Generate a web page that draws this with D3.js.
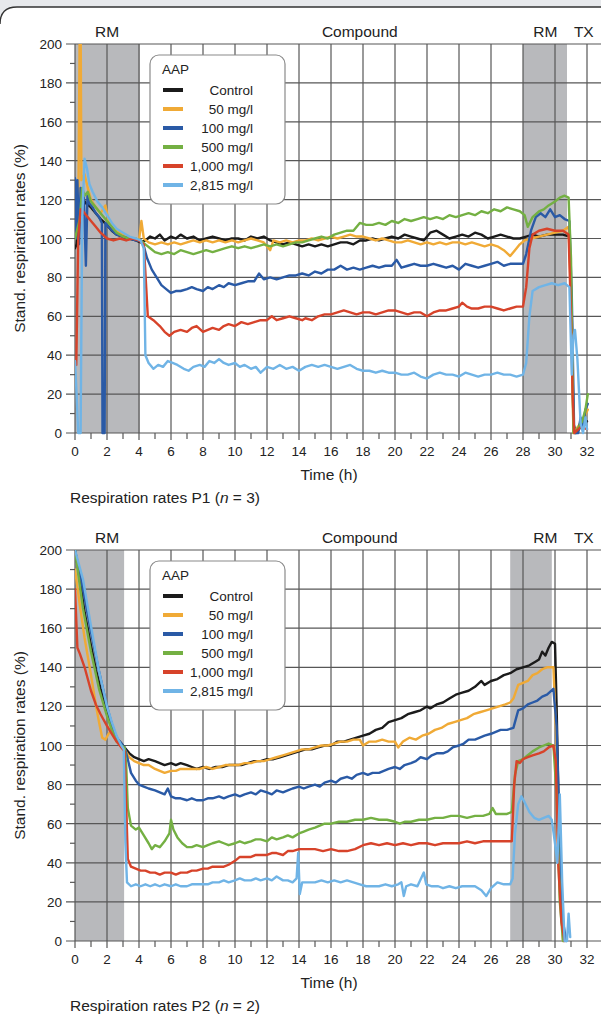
<!DOCTYPE html>
<html>
<head>
<meta charset="utf-8">
<script src="https://cdn.jsdelivr.net/npm/d3@7"></script>
<style>
  body { margin: 0; background: #fff; }
  svg { display: block; font-family: "Liberation Sans", Arial, sans-serif; }
</style>
</head>
<body>
<div id="my_dataviz"></div>
<script>

// ---- data ----
const seriesLabels = ["Control", "50 mg/l", "100 mg/l", "500 mg/l", "1,000 mg/l", "2,815 mg/l"];
const phaseLabels = ["RM", "Compound", "RM", "TX"];
const phaseLabelTimes = [2, 17.8, 29.4, 31.8];
const timeTicks = [0, 2, 4, 6, 8, 10, 12, 14, 16, 18, 20, 22, 24, 26, 28, 30, 32];
const rateTicks = [0, 20, 40, 60, 80, 100, 120, 140, 160, 180, 200];
const captions = ["Respiration rates P1", "Respiration rates P2"];
const replicates = [3, 2];

// shaded RM phases (h)
const p1Shade = [[0, 4.05], [28, 30.75]];
const p2Shade = [[0, 3.07], [27.2, 29.8]];

// P1 : [time (h), stand. respiration rate (%)]
const p1Control = [[0,95],[0.1,97],[0.3,112],[0.5,120],[0.7,118],[1,116],[1.3,113],[1.6,110],[2,107],[2.3,104],[2.6,102],[3,101],[3.4,100],[3.8,99],[4.1,98],[4.4,99],[4.7,101],[5,100],[5.3,102],[5.6,99],[6,101],[6.3,100],[6.6,102],[7,100],[7.4,101],[7.8,99],[8.2,100],[8.6,101],[9,100],[9.4,99],[9.8,100],[10.2,100],[10.6,99],[11,101],[11.4,100],[11.8,101],[12.2,99],[12.6,98],[13,97],[13.4,98],[13.8,97],[14.2,96],[14.6,97],[15,96],[15.4,97],[15.8,96],[16.2,97],[16.6,98],[17,98],[17.4,97],[17.8,99],[18.2,99],[18.6,100],[19,99],[19.4,100],[19.8,101],[20.2,100],[20.6,102],[21,101],[21.4,100],[21.8,99],[22.2,103],[22.6,104],[23,102],[23.4,100],[23.8,101],[24.2,102],[24.6,101],[25,103],[25.4,102],[25.8,100],[26.2,101],[26.6,102],[27,101],[27.4,100],[27.8,100],[28.2,101],[28.6,102],[29,101],[29.5,102],[30,102],[30.5,102],[30.9,101],[31.05,60],[31.15,5],[31.3,0],[31.6,3],[32,6]];
const p1Mg50 = [[0,100],[0.2,105],[0.3,215],[0.35,215],[0.4,130],[0.6,133],[0.8,126],[1,120],[1.3,116],[1.6,113],[1.9,117],[2.1,109],[2.4,106],[2.8,103],[3.2,101],[3.6,100],[4,99],[4.15,109],[4.3,100],[4.6,98],[5,97],[5.4,98],[5.8,97],[6.2,98],[6.6,97],[7,98],[7.4,99],[7.8,98],[8.2,99],[8.6,98],[9,99],[9.4,98],[9.8,99],[10.2,98],[10.6,99],[11,100],[11.4,99],[11.8,98],[12.2,94],[12.4,99],[12.8,98],[13.2,99],[13.6,98],[14,99],[14.4,99],[14.8,100],[15.2,99],[15.6,100],[16,101],[16.4,100],[16.8,101],[17.2,102],[17.6,101],[18,101],[18.4,100],[18.8,99],[19.2,100],[19.6,99],[20,98],[20.4,98],[20.8,99],[21.2,98],[21.6,97],[22,98],[22.4,97],[22.8,98],[23.2,97],[23.6,98],[24,98],[24.4,97],[24.8,98],[25.2,97],[25.6,96],[26,97],[26.4,96],[26.8,94],[27.2,91],[27.5,94],[27.8,97],[28.1,99],[28.5,100],[29,101],[29.5,102],[30,103],[30.5,104],[30.85,106],[31,70],[31.15,0],[31.5,4],[31.8,8],[32.05,12]];
const p1Mg100 = [[0,131],[0.08,100],[0.15,130],[0.25,97],[0.35,126],[0.45,112],[0.55,122],[0.68,86],[0.78,122],[0.9,118],[1.1,116],[1.3,113],[1.5,111],[1.68,108],[1.72,0],[1.85,0],[1.9,108],[2.2,105],[2.6,102],[3,101],[3.4,100],[3.8,99],[4.1,99],[4.3,96],[4.5,90],[4.8,84],[5.1,80],[5.4,76],[5.7,74],[6,72],[6.3,73],[6.6,73],[7,74],[7.3,75],[7.6,74],[8,73],[8.3,75],[8.6,74],[9,76],[9.3,75],[9.6,77],[10,76],[10.4,77],[10.8,78],[11.2,78],[11.5,82],[11.8,79],[12.2,80],[12.6,79],[13,80],[13.4,81],[13.8,81],[14.2,82],[14.6,81],[15,83],[15.4,82],[15.8,84],[16.2,84],[16.6,86],[17,84],[17.4,85],[17.8,84],[18.2,85],[18.6,86],[19,85],[19.4,86],[19.8,86],[20.1,89],[20.4,85],[20.8,86],[21.2,87],[21.6,86],[22,86],[22.4,87],[22.8,86],[23.2,85],[23.6,86],[24,84],[24.4,87],[24.8,86],[25.2,85],[25.6,86],[26,87],[26.4,88],[26.8,86],[27.2,87],[27.6,87],[28,87],[28.2,92],[28.5,104],[28.8,111],[29.1,113],[29.4,111],[29.7,115],[30,111],[30.3,112],[30.6,110],[30.9,109],[31.05,70],[31.2,0],[31.45,0],[31.6,8],[31.75,3],[31.9,12],[32.05,15]];
const p1Mg500 = [[0,100],[0.3,110],[0.45,126],[0.6,122],[0.8,124],[1,119],[1.3,116],[1.6,113],[2,109],[2.3,106],[2.6,103],[3,101],[3.4,100],[3.8,100],[4.1,99],[4.4,97],[4.7,95],[5,93],[5.4,92],[5.8,93],[6.2,92],[6.6,94],[7,93],[7.4,92],[7.8,93],[8.2,94],[8.6,93],[9,94],[9.4,95],[9.8,96],[10.2,95],[10.6,96],[11,95],[11.4,96],[11.8,97],[12.2,96],[12.6,97],[13,96],[13.4,97],[13.8,98],[14.2,98],[14.6,99],[15,100],[15.4,101],[15.8,100],[16.2,102],[16.6,103],[17,104],[17.4,104],[17.8,108],[18.2,107],[18.6,107],[19,108],[19.4,107],[19.8,109],[20.2,108],[20.6,110],[21,109],[21.4,110],[21.8,111],[22.2,110],[22.6,111],[23,110],[23.4,112],[23.8,111],[24.2,112],[24.6,113],[25,112],[25.4,114],[25.8,113],[26.2,115],[26.6,114],[27,116],[27.4,115],[27.8,114],[28.1,112],[28.3,106],[28.6,111],[29,114],[29.3,115],[29.6,117],[30,119],[30.3,121],[30.6,122],[30.85,121],[31,90],[31.15,0],[31.4,2],[31.7,6],[31.9,12],[32.05,20]];
const p1Mg1000 = [[0,37],[0.08,35],[0.2,100],[0.35,115],[0.5,114],[0.7,112],[1,109],[1.3,106],[1.6,103],[2,100],[2.4,99],[2.8,100],[3.2,99],[3.6,100],[4,99],[4.3,97],[4.45,75],[4.55,60],[4.9,58],[5.3,55],[5.6,52],[5.9,50],[6.2,52],[6.6,53],[7,52],[7.3,54],[7.6,55],[8,52],[8.3,53],[8.6,54],[9,53],[9.3,55],[9.6,56],[10,55],[10.4,57],[10.8,56],[11.2,57],[11.6,58],[12,58],[12.3,60],[12.6,58],[13,59],[13.4,60],[13.8,59],[14.2,58],[14.4,59],[14.8,58],[15.2,60],[15.6,61],[16,61],[16.4,62],[16.8,63],[17.2,62],[17.6,61],[18,62],[18.4,62],[18.8,61],[19.2,62],[19.6,63],[20,63],[20.4,62],[20.8,61],[21.2,62],[21.6,62],[22,60],[22.4,62],[22.8,63],[23.2,63],[23.6,64],[24,65],[24.2,67],[24.5,65],[24.8,64],[25.2,64],[25.6,65],[26,65],[26.4,64],[26.8,63],[27.2,64],[27.6,65],[28,65],[28.2,75],[28.4,95],[28.6,102],[29,104],[29.5,105],[30,104],[30.5,104],[30.85,102],[31,60],[31.1,20],[31.2,0],[31.6,3],[32,2]];
const p1Mg2815 = [[0,37],[0.1,20],[0.2,0],[0.35,0],[0.45,110],[0.6,141],[0.75,136],[0.9,128],[1.1,124],[1.4,119],[1.7,116],[2,112],[2.3,108],[2.6,105],[3,103],[3.4,101],[3.8,100],[4.1,99],[4.3,95],[4.4,40],[4.6,36],[4.9,33],[5.2,35],[5.5,34],[5.8,37],[6.1,36],[6.4,35],[6.8,33],[7.1,32],[7.4,34],[7.8,35],[8.1,34],[8.4,37],[8.7,36],[9,38],[9.3,36],[9.6,35],[10,36],[10.3,34],[10.6,35],[11,33],[11.3,34],[11.6,31],[12,34],[12.4,33],[12.8,35],[13.2,33],[13.6,34],[14,32],[14.4,34],[14.8,35],[15.2,34],[15.6,35],[16,34],[16.4,33],[16.8,34],[17.2,35],[17.6,33],[18,32],[18.4,32],[18.8,31],[19.2,32],[19.6,31],[20,31],[20.4,30],[20.8,30],[21.2,31],[21.6,29],[22,28],[22.4,30],[22.8,31],[23.2,30],[23.6,30],[24,29],[24.4,31],[24.8,30],[25.2,29],[25.6,30],[26,30],[26.4,31],[26.8,30],[27.2,30],[27.6,29],[28,30],[28.2,36],[28.4,60],[28.6,73],[29,75],[29.4,76],[29.8,77],[30.2,76],[30.6,77],[30.9,75],[31.05,30],[31.15,50],[31.25,53],[31.4,38],[31.6,5],[31.75,0],[31.9,8],[32,2]];

// P2
const p2Control = [[0,200],[0.3,185],[0.6,168],[1,151],[1.3,139],[1.6,129],[2,118],[2.3,110],[2.6,104],[2.9,101],[3.1,99],[3.4,96],[3.7,94],[4,93],[4.3,92],[4.6,93],[5,92],[5.3,91],[5.6,90],[6,91],[6.3,90],[6.6,91],[7,90],[7.3,89],[7.6,88],[8,89],[8.4,88],[8.8,89],[9.2,89],[9.6,90],[10,90],[10.4,90],[10.8,91],[11.2,92],[11.6,92],[12,93],[12.4,93],[12.8,94],[13.2,95],[13.6,96],[14,97],[14.4,98],[14.8,98],[15.2,99],[15.6,100],[16,100],[16.4,102],[16.8,102],[17.2,103],[17.6,104],[18,105],[18.4,106],[18.8,108],[19.2,109],[19.6,112],[20,113],[20.4,114],[20.8,116],[21.2,117],[21.6,118],[22,120],[22.2,119],[22.6,121],[23,122],[23.4,124],[23.8,126],[24.2,127],[24.6,128],[25,130],[25.4,133],[25.6,131],[26,133],[26.4,134],[26.8,136],[27.2,137],[27.6,139],[28,140],[28.4,141],[28.8,143],[29,144],[29.2,148],[29.4,146],[29.6,150],[29.8,153],[30,152],[30.1,120],[30.25,60],[30.4,15],[30.55,0]];
const p2Mg50 = [[0,190],[0.3,172],[0.6,155],[1,136],[1.3,121],[1.5,112],[1.7,104],[1.9,103],[2.1,106],[2.3,108],[2.6,103],[2.9,100],[3.1,98],[3.4,94],[3.7,92],[4,91],[4.3,90],[4.6,90],[5,88],[5.3,87],[5.6,86],[6,87],[6.3,87],[6.6,88],[7,88],[7.4,88],[7.8,88],[8.2,89],[8.6,88],[9,89],[9.4,90],[9.8,90],[10.2,90],[10.6,91],[11,91],[11.4,92],[11.8,92],[12.2,93],[12.6,94],[13,95],[13.4,96],[13.8,97],[14.2,98],[14.6,98],[15,99],[15.4,100],[15.8,100],[16.2,101],[16.6,102],[17,102],[17.4,103],[17.8,103],[18,100],[18.4,102],[18.8,102],[19.2,103],[19.6,102],[20,102],[20.2,99],[20.5,102],[20.9,104],[21.3,103],[21.7,105],[22.1,106],[22.5,108],[22.9,109],[23.3,111],[23.7,112],[24.1,113],[24.5,114],[24.9,116],[25.3,117],[25.7,118],[26.1,119],[26.5,120],[26.9,121],[27.2,122],[27.4,124],[27.7,131],[28,132],[28.3,133],[28.6,136],[28.9,137],[29.2,139],[29.5,140],[29.9,140],[30.1,100],[30.3,30],[30.5,0]];
const p2Mg100 = [[0,200],[0.5,180],[1,158],[1.5,138],[2,120],[2.3,111],[2.6,104],[2.9,101],[3.1,99],[3.3,93],[3.5,86],[3.8,82],[4,80],[4.3,79],[4.6,78],[5,77],[5.3,76],[5.6,75],[5.8,78],[6,74],[6.3,73],[6.6,73],[7,72],[7.3,73],[7.6,72],[8,72],[8.3,73],[8.6,73],[9,74],[9.3,73],[9.6,74],[10,75],[10.3,74],[10.6,75],[11,76],[11.3,75],[11.6,77],[12,76],[12.3,75],[12.6,77],[13,76],[13.3,77],[13.6,78],[14,79],[14.3,78],[14.6,79],[15,80],[15.3,79],[15.6,81],[16,82],[16.3,81],[16.6,83],[17,84],[17.3,83],[17.6,85],[18,86],[18.3,85],[18.6,86],[19,86],[19.3,87],[19.6,88],[20,89],[20.3,88],[20.6,90],[21,91],[21.3,92],[21.6,94],[22,93],[22.3,95],[22.6,96],[23,96],[23.3,97],[23.6,99],[24,100],[24.3,101],[24.6,103],[25,103],[25.3,104],[25.6,105],[26,106],[26.3,107],[26.6,108],[27,108],[27.4,109],[27.7,118],[28,119],[28.3,121],[28.6,122],[28.9,123],[29.2,125],[29.5,126],[29.9,129],[30.1,110],[30.3,50],[30.5,10],[30.7,0]];
const p2Mg500 = [[0,200],[0.5,170],[1,148],[1.5,129],[2,115],[2.3,108],[2.6,102],[2.9,100],[3.1,99],[3.2,90],[3.3,68],[3.5,59],[3.8,57],[4,58],[4.3,54],[4.6,50],[4.8,47],[5,49],[5.3,48],[5.6,51],[5.9,55],[6,62],[6.15,57],[6.4,53],[6.7,50],[7,48],[7.3,48],[7.6,49],[8,48],[8.3,49],[8.6,50],[9,51],[9.3,50],[9.6,49],[10,50],[10.3,51],[10.6,50],[11,51],[11.3,52],[11.6,52],[12,51],[12.3,53],[12.6,52],[13,53],[13.3,54],[13.6,53],[14,55],[14.3,56],[14.6,57],[15,58],[15.3,59],[15.6,60],[16,60],[16.5,61],[17,61],[17.5,62],[18,62],[18.5,63],[19,62],[19.5,62],[20,61],[20.3,60],[20.6,61],[21,61],[21.5,62],[22,62],[22.5,63],[23,63],[23.5,64],[24,64],[24.5,63],[25,64],[25.5,64],[25.9,65],[26.1,68],[26.3,65],[26.6,65],[27,65],[27.3,66],[27.5,85],[27.7,92],[28,93],[28.3,95],[28.6,97],[29,99],[29.3,100],[29.6,101],[29.9,100],[30.1,75],[30.3,20],[30.5,0]];
const p2Mg1000 = [[0,180],[0.15,150],[0.3,147],[0.6,140],[1,128],[1.3,121],[1.6,116],[2,110],[2.3,106],[2.6,102],[2.9,99],[3.1,97],[3.2,70],[3.3,42],[3.5,38],[3.8,37],[4.1,36],[4.4,36],[4.7,35],[5,35],[5.3,34],[5.6,35],[6,35],[6.3,34],[6.6,35],[7,35],[7.3,36],[7.6,36],[8,37],[8.3,37],[8.6,38],[9,38],[9.3,38],[9.6,39],[10,41],[10.3,43],[10.6,43],[11,43],[11.3,44],[11.6,44],[12,44],[12.3,45],[12.6,45],[13,44],[13.3,46],[13.6,46],[14,47],[14.5,47],[15,47],[15.5,46],[16,47],[16.5,46],[17,46],[17.5,47],[18,49],[18.5,50],[19,49],[19.5,50],[20,49],[20.5,50],[21,49],[21.5,50],[22,50],[22.5,49],[23,50],[23.5,50],[24,50],[24.5,51],[25,50],[25.5,51],[26,51],[26.5,51],[27,51],[27.3,51],[27.45,80],[27.6,92],[27.8,91],[28,93],[28.3,94],[28.6,95],[29,96],[29.3,97],[29.6,99],[29.9,100],[30.05,92],[30.2,40],[30.4,10],[30.6,0]];
const p2Mg2815 = [[0,200],[0.5,185],[1,161],[1.5,138],[2,120],[2.3,112],[2.6,105],[2.9,100],[3.05,98],[3.15,50],[3.25,30],[3.5,28],[3.8,29],[4.1,28],[4.4,29],[4.7,28],[5,29],[5.3,28],[5.6,29],[6,28],[6.3,29],[6.6,28],[7,28],[7.3,29],[7.6,29],[8,29],[8.3,29],[8.6,30],[9,30],[9.3,31],[9.6,30],[10,31],[10.3,32],[10.6,31],[11,31],[11.3,32],[11.6,31],[12,32],[12.3,31],[12.6,33],[13,31],[13.3,31],[13.6,30],[13.85,32],[13.95,45],[14.05,24],[14.2,30],[14.6,30],[15,30],[15.4,31],[15.8,30],[16.2,31],[16.6,30],[17,31],[17.4,30],[17.8,29],[18.2,28],[18.6,28],[19,28],[19.4,29],[19.8,28],[20.2,29],[20.4,30],[20.55,23],[20.7,28],[21,29],[21.4,28],[21.8,35],[21.95,29],[22.3,28],[22.7,28],[23,27],[23.4,28],[23.8,27],[24.2,28],[24.6,28],[25,28],[25.4,26],[25.7,23],[26,27],[26.4,30],[26.8,29],[27.2,29],[27.35,32],[27.5,55],[27.7,70],[27.9,74],[28.1,71],[28.4,66],[28.7,63],[29,62],[29.3,63],[29.6,64],[29.8,62],[30,50],[30.15,40],[30.3,75],[30.45,30],[30.6,0],[30.75,0],[30.85,14],[30.95,2]];

const p1Series = [p1Control, p1Mg50, p1Mg100, p1Mg500, p1Mg1000, p1Mg2815];
const p2Series = [p2Control, p2Mg50, p2Mg100, p2Mg500, p2Mg1000, p2Mg2815];

// ---- styles ----
const colors = ["#1b1b1b", "#f0aa36", "#2a5aa6", "#74b043", "#d7432a", "#70b4e6"];
const shadeColor = "#b8b9bc";
const gridColor = "#575757";

let width = 601, height = 1014;

let svg = d3.select("#my_dataviz")
            .append("svg")
            .attr("width", width)
            .attr("height", height);

// frame at the top
svg.append("path")
   .attr("d", "M0,0 H601 V7 H17 Q0,7 0,24 Z")
   .attr("fill", "#e7e9ec");
svg.append("path")
   .attr("d", "M0,24 Q0,7 17,7 H601")
   .attr("fill", "none")
   .attr("stroke", "#333")
   .attr("stroke-width", 1.4);

function panel(idx, series, shades, top, bottom, legendTop) {

    let x = d3.scaleLinear()
        .domain([0, 33])
        .range([75, 75 + 16 * 33]);

    let y = d3.scaleLinear()
        .domain([0, 200])
        .range([bottom, top]);

    let g = svg.append("g");

    // shaded RM phases
    g.selectAll("rect.shade")
        .data(shades)
        .enter().append("rect")
        .attr("class", "shade")
        .attr("x", d => x(d[0]))
        .attr("y", y(200))
        .attr("width", d => x(d[1]) - x(d[0]))
        .attr("height", y(0) - y(200))
        .attr("fill", shadeColor);

    // grid
    g.selectAll("line.vgrid")
        .data(timeTicks)
        .enter().append("line")
        .attr("x1", d => x(d)).attr("x2", d => x(d))
        .attr("y1", y(200)).attr("y2", y(0) + 7)
        .attr("stroke", gridColor).attr("stroke-width", 1.2);

    g.selectAll("line.hgrid")
        .data(rateTicks)
        .enter().append("line")
        .attr("x1", 66).attr("x2", width)
        .attr("y1", d => y(d)).attr("y2", d => y(d))
        .attr("stroke", gridColor).attr("stroke-width", 1.2);

    // minor ticks
    let yMinor = d3.range(10, 200, 20);
    g.selectAll("line.ymin")
        .data(yMinor)
        .enter().append("line")
        .attr("x1", 70).attr("x2", 75)
        .attr("y1", d => y(d)).attr("y2", d => y(d))
        .attr("stroke", gridColor).attr("stroke-width", 1.2);

    let xMinor = d3.range(1, 33, 2);
    g.selectAll("line.xmin")
        .data(xMinor)
        .enter().append("line")
        .attr("x1", d => x(d)).attr("x2", d => x(d))
        .attr("y1", y(0)).attr("y2", y(0) + 6)
        .attr("stroke", gridColor).attr("stroke-width", 1.2);

    // tick labels
    g.selectAll("text.ylab")
        .data(rateTicks)
        .enter().append("text")
        .attr("x", 62)
        .attr("y", d => y(d) + 5)
        .attr("text-anchor", "end")
        .attr("font-size", 13.5)
        .attr("fill", "#222")
        .text(d => d);

    g.selectAll("text.xlab")
        .data(timeTicks)
        .enter().append("text")
        .attr("x", d => x(d))
        .attr("y", y(0) + 23)
        .attr("text-anchor", "middle")
        .attr("font-size", 13.5)
        .attr("fill", "#222")
        .text(d => d);

    // phase labels above the plot
    g.selectAll("text.phase")
        .data(phaseLabels)
        .enter().append("text")
        .attr("x", (d, i) => x(phaseLabelTimes[i]))
        .attr("y", y(200) - 7)
        .attr("text-anchor", "middle")
        .attr("font-size", 15.5)
        .attr("fill", "#222")
        .text(d => d);

    // axis titles
    g.append("text")
        .attr("transform", "translate(25," + ((top + bottom) / 2) + ") rotate(-90)")
        .attr("text-anchor", "middle")
        .attr("font-size", 15.5)
        .attr("fill", "#222")
        .text("Stand. respiration rates (%)");

    g.append("text")
        .attr("x", 329)
        .attr("y", y(0) + 47)
        .attr("text-anchor", "middle")
        .attr("font-size", 15.5)
        .attr("fill", "#222")
        .text("Time (h)");

    let cap = g.append("text")
        .attr("x", 70)
        .attr("y", y(0) + 70)
        .attr("font-size", 15.5)
        .attr("fill", "#222");
    cap.append("tspan").text(captions[idx] + " (");
    cap.append("tspan").attr("font-style", "italic").text("n");
    cap.append("tspan").text(" = " + replicates[idx] + ")");

    // series
    let clipId = "clip" + idx;
    svg.append("clipPath").attr("id", clipId)
        .append("rect")
        .attr("x", x(0)).attr("y", y(200))
        .attr("width", width - x(0))
        .attr("height", y(0) - y(200) + 3);

    let line = d3.line()
        .x(d => x(d[0]))
        .y(d => y(d[1]));

    g.append("g")
        .attr("clip-path", "url(#" + clipId + ")")
        .selectAll("path")
        .data(series)
        .enter().append("path")
        .attr("d", line)
        .attr("fill", "none")
        .attr("stroke", (d, i) => colors[i])
        .attr("stroke-width", 2.4)
        .attr("stroke-linejoin", "round")
        .attr("stroke-linecap", "round");

    // legend
    let lg = g.append("g").attr("transform", "translate(150," + legendTop + ")");
    lg.append("rect")
        .attr("width", 135).attr("height", 149)
        .attr("rx", 9)
        .attr("fill", "#fff")
        .attr("stroke", "#8a8a8a")
        .attr("stroke-width", 1.2);
    lg.append("text")
        .attr("x", 12).attr("y", 19)
        .attr("font-size", 13.5)
        .attr("fill", "#222")
        .text("AAP");
    let items = lg.selectAll("g.item")
        .data(seriesLabels)
        .enter().append("g")
        .attr("transform", (d, i) => "translate(0," + (35 + i * 19) + ")");
    items.append("line")
        .attr("x1", 13).attr("x2", 33)
        .attr("stroke", (d, i) => colors[i])
        .attr("stroke-width", 4);
    items.append("text")
        .attr("x", 103).attr("y", 5)
        .attr("text-anchor", "end")
        .attr("font-size", 13.5)
        .attr("fill", "#222")
        .text(d => d);
}

panel(0, p1Series, p1Shade, 44, 433, 55);
panel(1, p2Series, p2Shade, 550, 941, 561);

</script>
</body>
</html>
